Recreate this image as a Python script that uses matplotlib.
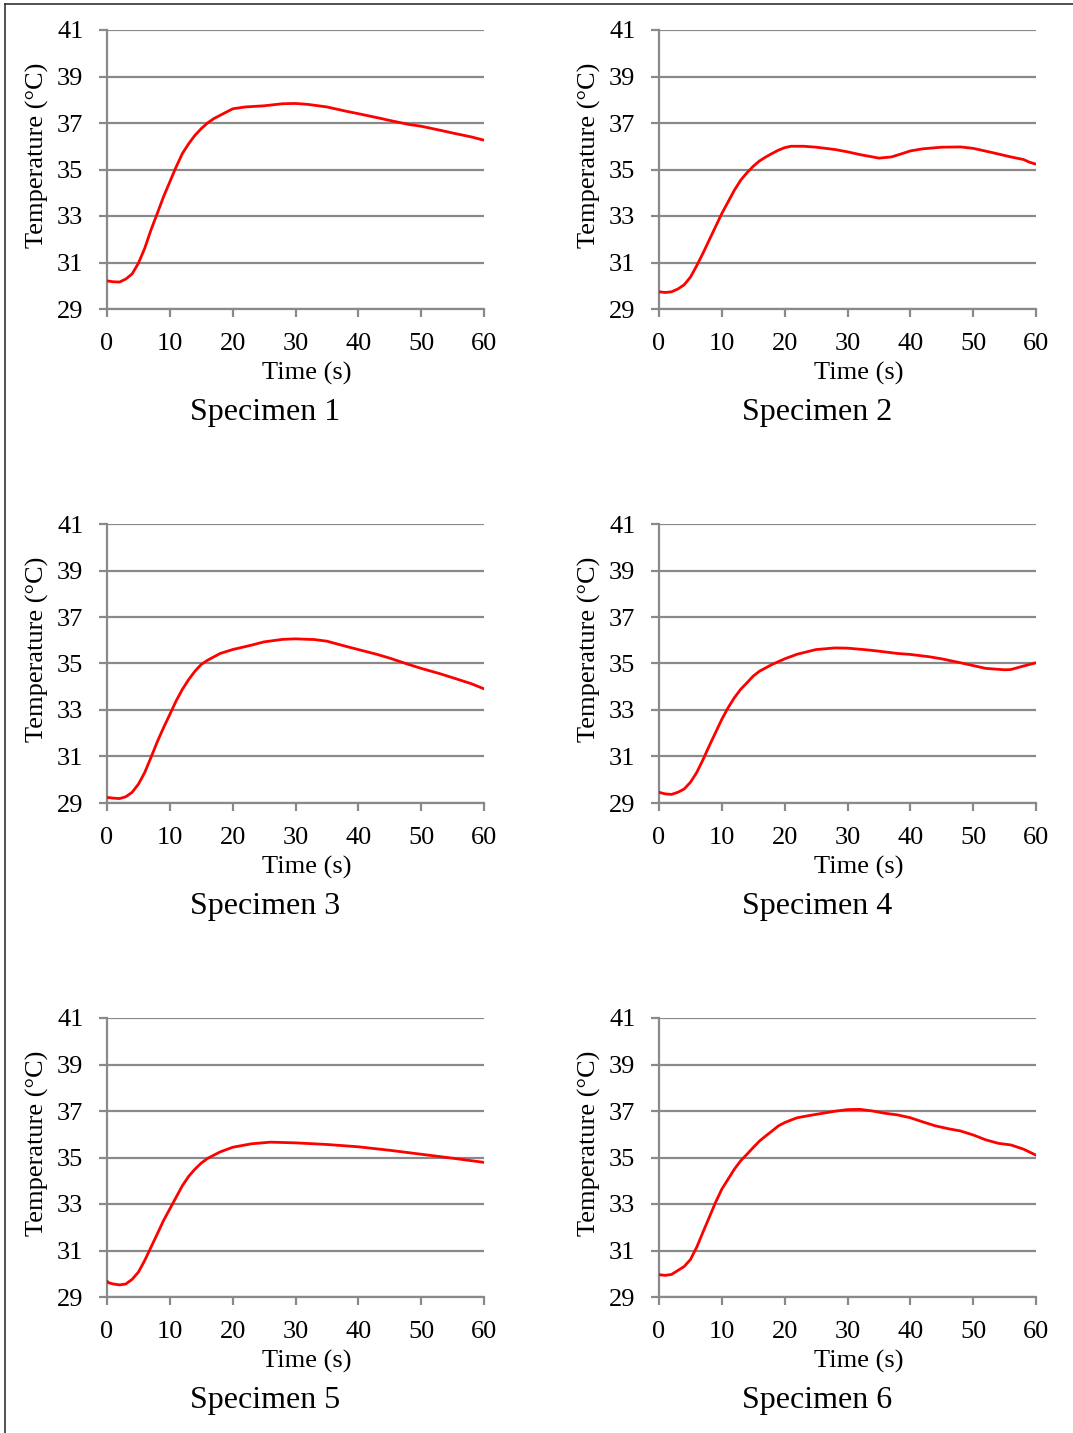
import matplotlib
matplotlib.use('Agg')
import matplotlib.pyplot as plt
from matplotlib.lines import Line2D

plt.rcParams['font.family'] = ['Liberation Serif', 'DejaVu Serif']

# temperature readings (deg C) against time (s) for each specimen
t1 = [0, 1, 2, 3, 4, 5, 6, 7, 8, 9, 10, 11, 12, 13, 14, 15, 16, 17, 18, 19, 20,
      22, 25, 28, 30, 32, 35, 38, 40, 43, 45, 48, 50, 53, 55, 58, 60]
s1 = [30.21, 30.17, 30.16, 30.29, 30.51, 30.97, 31.61, 32.40, 33.11, 33.83, 34.47,
      35.11, 35.69, 36.11, 36.47, 36.76, 37.00, 37.19, 37.33, 37.47, 37.61,
      37.69, 37.74, 37.83, 37.84, 37.80, 37.69, 37.51, 37.40, 37.23, 37.11,
      36.94, 36.86, 36.69, 36.57, 36.40, 36.26]

t2 = [0, 1, 2, 3, 4, 5, 6, 7, 8, 9, 10, 11, 12, 13, 14, 15, 16, 17, 18, 19, 20,
      21, 23, 25, 28, 30, 32, 35, 37, 39, 40, 42, 45, 48, 50, 53, 56, 58, 59, 60]
s2 = [29.74, 29.71, 29.74, 29.86, 30.04, 30.37, 30.86, 31.40, 31.97, 32.54, 33.11,
      33.61, 34.11, 34.54, 34.86, 35.14, 35.37, 35.54, 35.69, 35.83, 35.94,
      36.00, 36.00, 35.96, 35.86, 35.76, 35.64, 35.49, 35.54, 35.71, 35.80,
      35.89, 35.96, 35.97, 35.91, 35.73, 35.54, 35.43, 35.31, 35.23]

t3 = [0, 1, 2, 3, 4, 5, 6, 7, 8, 9, 10, 11, 12, 13, 14, 15, 16, 18, 20, 23, 25,
      28, 30, 33, 35, 38, 40, 43, 45, 48, 50, 53, 55, 58, 60]
s3 = [29.24, 29.21, 29.19, 29.27, 29.46, 29.81, 30.31, 30.96, 31.63, 32.24, 32.81,
      33.39, 33.89, 34.31, 34.67, 34.96, 35.14, 35.43, 35.60, 35.79, 35.93,
      36.04, 36.06, 36.03, 35.96, 35.74, 35.60, 35.39, 35.23, 34.96, 34.79,
      34.56, 34.39, 34.13, 33.91]

t4 = [0, 1, 2, 3, 4, 5, 6, 7, 8, 9, 10, 11, 12, 13, 14, 15, 16, 18, 20, 22, 25,
      28, 30, 33, 35, 38, 40, 43, 45, 48, 50, 52, 55, 56, 58, 60]
s4 = [29.46, 29.39, 29.37, 29.46, 29.60, 29.89, 30.31, 30.86, 31.46, 32.03, 32.60,
      33.10, 33.53, 33.89, 34.17, 34.46, 34.67, 34.96, 35.20, 35.40, 35.60,
      35.67, 35.66, 35.59, 35.53, 35.43, 35.39, 35.29, 35.20, 35.03, 34.91,
      34.79, 34.73, 34.74, 34.89, 35.03]

t5 = [0, 0.3, 1, 2, 3, 4, 5, 6, 7, 8, 9, 10, 11, 12, 13, 14, 15, 16, 18, 20, 23,
      26, 30, 35, 40, 45, 50, 55, 60]
s5 = [29.68, 29.61, 29.56, 29.52, 29.56, 29.76, 30.07, 30.57, 31.14, 31.71, 32.29,
      32.79, 33.29, 33.79, 34.19, 34.50, 34.76, 34.96, 35.24, 35.44, 35.59,
      35.66, 35.63, 35.56, 35.46, 35.31, 35.14, 34.97, 34.79]

t6 = [0, 1, 2, 3, 4, 5, 6, 7, 8, 9, 10, 11, 12, 13, 14, 15, 16, 17, 18, 19, 20,
      21, 22, 24, 26, 28, 30, 32, 34, 36, 38, 40, 42, 44, 46, 48, 50, 52, 54,
      56, 58, 60]
s6 = [29.96, 29.93, 29.97, 30.14, 30.31, 30.61, 31.14, 31.79, 32.43, 33.07, 33.64,
      34.07, 34.50, 34.86, 35.14, 35.43, 35.71, 35.93, 36.14, 36.36, 36.50,
      36.61, 36.71, 36.81, 36.90, 36.99, 37.06, 37.07, 37.00, 36.90, 36.83,
      36.71, 36.53, 36.36, 36.24, 36.14, 35.97, 35.76, 35.61, 35.54, 35.36, 35.10]

times = [t1, t2, t3, t4, t5, t6]
temps = [s1, s2, s3, s4, s5, s6]
titles = ['Specimen 1', 'Specimen 2', 'Specimen 3',
          'Specimen 4', 'Specimen 5', 'Specimen 6']
x_ticks = [0, 10, 20, 30, 40, 50, 60]
y_ticks = [29, 31, 33, 35, 37, 39, 41]

W, H = 1073, 1433
fig = plt.figure(figsize=(W / 100, H / 100), dpi=100)

grey = '#898989'
lefts = [107, 659]
tops = [30, 524, 1018]
ax_w, ax_h = 377, 279

for i in range(6):
    row, col = divmod(i, 2)
    l = lefts[col]
    t = tops[row]
    ax = fig.add_axes([l / W, 1 - (t + ax_h) / H, ax_w / W, ax_h / H])

    ax.plot(times[i], temps[i], color='#ff0000', linewidth=2.0,
            solid_capstyle='round', solid_joinstyle='round', zorder=3)

    ax.set_xlim(0, 60)
    ax.set_ylim(29, 41)
    ax.set_xticks(x_ticks)
    ax.set_yticks(y_ticks)
    ax.yaxis.grid(True, color=grey, linewidth=1.6)
    ax.set_axisbelow(True)

    for side in ['top', 'right']:
        ax.spines[side].set_visible(False)
    for side in ['left', 'bottom']:
        ax.spines[side].set_color(grey)
        ax.spines[side].set_linewidth(1.6)

    ax.tick_params(axis='both', direction='out', color=grey, width=1.6,
                   length=6, labelsize=19)
    ax.tick_params(axis='y', pad=11)
    ax.tick_params(axis='x', pad=11)

    ax.set_xlabel('Time (s)', fontsize=19)
    ax.xaxis.set_label_coords(0.53, -0.19)
    ax.set_ylabel('Temperature (°C)', fontsize=19)
    ax.yaxis.set_label_coords(-0.153, 0.55)

    ax.text(0.42, -0.372, titles[i], transform=ax.transAxes,
            ha='center', va='center', fontsize=23)

# page frame, cut off on the right and bottom
fig.add_artist(Line2D([5 / W, 5 / W], [0, 1 - 4 / H], color='#333333',
                      linewidth=1.2, transform=fig.transFigure))
fig.add_artist(Line2D([5 / W, 1], [1 - 4 / H, 1 - 4 / H], color='#333333',
                      linewidth=1.2, transform=fig.transFigure))

fig.savefig('out.png', dpi=100, facecolor='white')
